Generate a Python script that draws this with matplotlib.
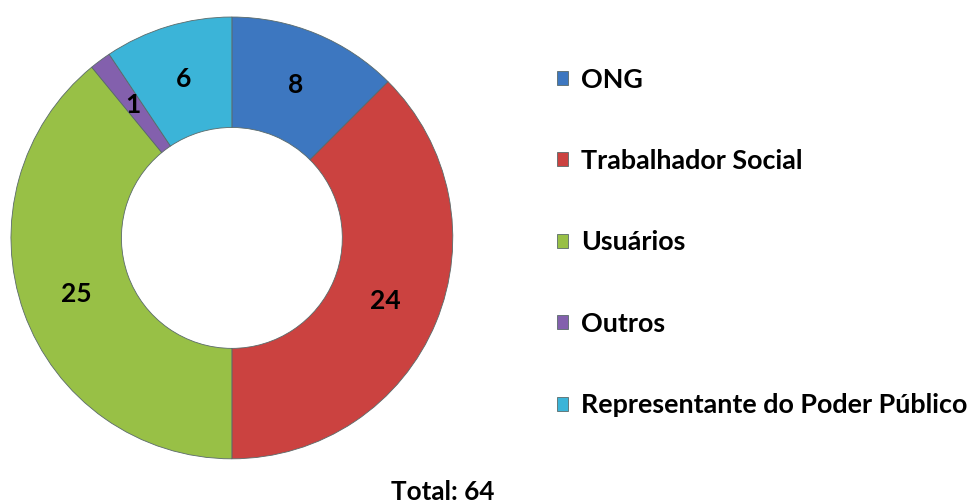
import matplotlib
matplotlib.use("Agg")
from matplotlib import pyplot as plt

categorias = ['ONG', 'Trabalhador Social', 'Usuários', 'Outros', 'Representante do Poder Público']
valores = [8, 24, 25, 1, 6]
cores = ['#3d77c0', '#cb4240', '#98c046', '#8360ad', '#3bb4d8']

plt.rcParams['font.family'] = ['Lato', 'DejaVu Sans']

fig = plt.figure(figsize=(9.71, 5.03), dpi=100)
ax = fig.add_axes([0.0113, 0.0875, 0.455, 0.879])

fatias, textos = ax.pie(valores, colors=cores, startangle=90, counterclock=False,
                        radius=1.0, labels=[str(v) for v in valores], labeldistance=0.75,
                        wedgeprops=dict(width=0.5, edgecolor='#5a6a6a', linewidth=0.6))
for t in textos:
    t.set_fontsize(19)
    t.set_fontweight('bold')
    t.set_color('black')
    t.set_ha('center')
    t.set_va('center')
ax.set_xlim(-1, 1)
ax.set_ylim(-1, 1)
ax.set_aspect('equal')
ax.axis('off')

# legenda a direita
leg = fig.legend(fatias, categorias, loc='center left', bbox_to_anchor=(0.5736, 0.518),
                 frameon=False, prop=dict(size=19.4, weight='bold'), borderpad=0, borderaxespad=0,
                 handlelength=0.42, handleheight=0.42, handletextpad=0.48, labelspacing=2.13)

fig.text(0.456, 0.022, 'Total: 64', fontsize=18.8, fontweight='bold', ha='center', va='center')

fig.savefig('out.png', dpi=100)
